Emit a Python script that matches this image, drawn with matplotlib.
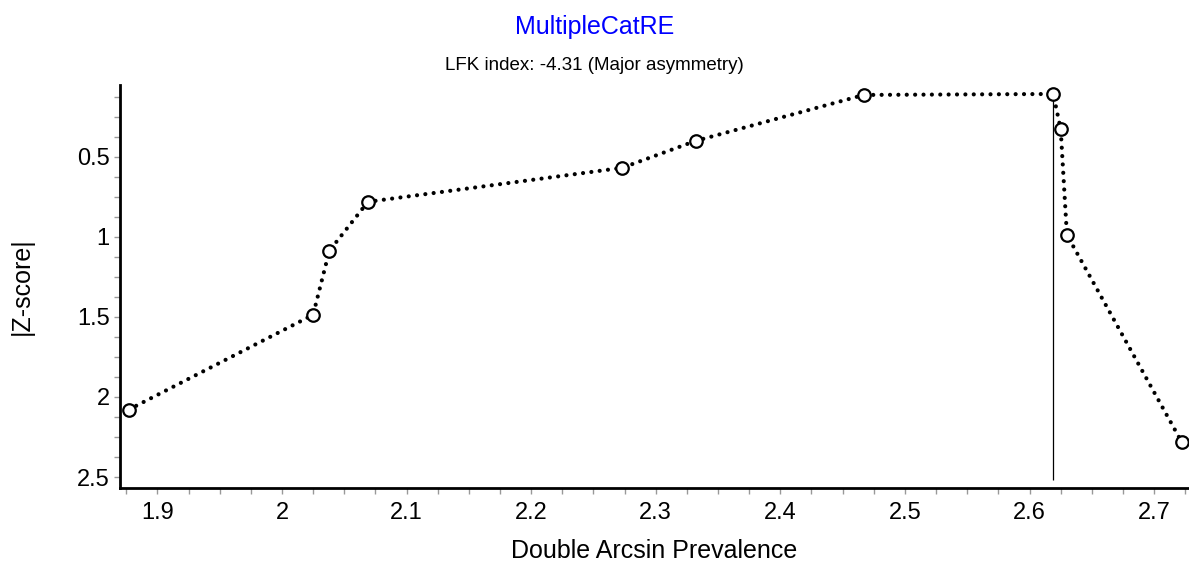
import numpy as np
import matplotlib.pyplot as plt

plt.rcParams['font.family'] = ['Liberation Sans', 'DejaVu Sans']

# datos
prevalencia = [1.877, 2.025, 2.038, 2.069, 2.273, 2.332, 2.467, 2.619, 2.625, 2.630, 2.722]
zscore = [2.079, 1.487, 1.088, 0.782, 0.570, 0.402, 0.115, 0.109, 0.327, 0.988, 2.279]
linea_x = 2.619
linea_z = [0.109, 2.516]

xticks = [1.9, 2.0, 2.1, 2.2, 2.3, 2.4, 2.5, 2.6, 2.7]
xlabels = ['1.9', '2', '2.1', '2.2', '2.3', '2.4', '2.5', '2.6', '2.7']
yticks = [0.5, 1.0, 1.5, 2.0, 2.5]
ylabels = ['0.5', '1', '1.5', '2', '2.5']

fig = plt.figure(figsize=(11.89, 5.67), dpi=100)
ax = fig.add_axes([120/1189, 79/567, 1 - 120/1189, (488-85)/567])

ax.plot(prevalencia, zscore, color='k', lw=3, linestyle=(0, (0.01, 2)),
        dash_capstyle='round', zorder=2)
ax.plot(prevalencia, zscore, 'o', ms=9, mfc='white', mec='k', mew=1.6, zorder=3)
ax.vlines(linea_x, linea_z[0], linea_z[1], color='k', lw=0.9, zorder=1)

ax.set_xlim(1.870, 2.728)
ax.set_ylim(2.568, 0.053)
ax.set_xticks(xticks, xlabels)
ax.set_yticks(yticks, ylabels)
ax.set_xticks(np.arange(1.875, 2.73, 0.025), minor=True)
ax.set_yticks(np.arange(0.125, 2.56, 0.125), minor=True)
ax.tick_params(which='both', color='#999999', length=4, width=1, labelsize=17)
ax.tick_params(axis='x', pad=6)

for s in ['top', 'right']:
    ax.spines[s].set_visible(False)
for s in ['left', 'bottom']:
    ax.spines[s].set_linewidth(2)

ax.set_xlabel('Double Arcsin Prevalence', fontsize=18, labelpad=11)
ax.set_ylabel('|Z-score|', fontsize=18, labelpad=31)
fig.text(0.5, 1 - 27/567, 'MultipleCatRE', color='#0000ff', fontsize=18,
         ha='center', va='center')
fig.text(0.5, 1 - 66/567, 'LFK index: -4.31 (Major asymmetry)', fontsize=13.5,
         ha='center', va='center')

plt.savefig('out.png')
